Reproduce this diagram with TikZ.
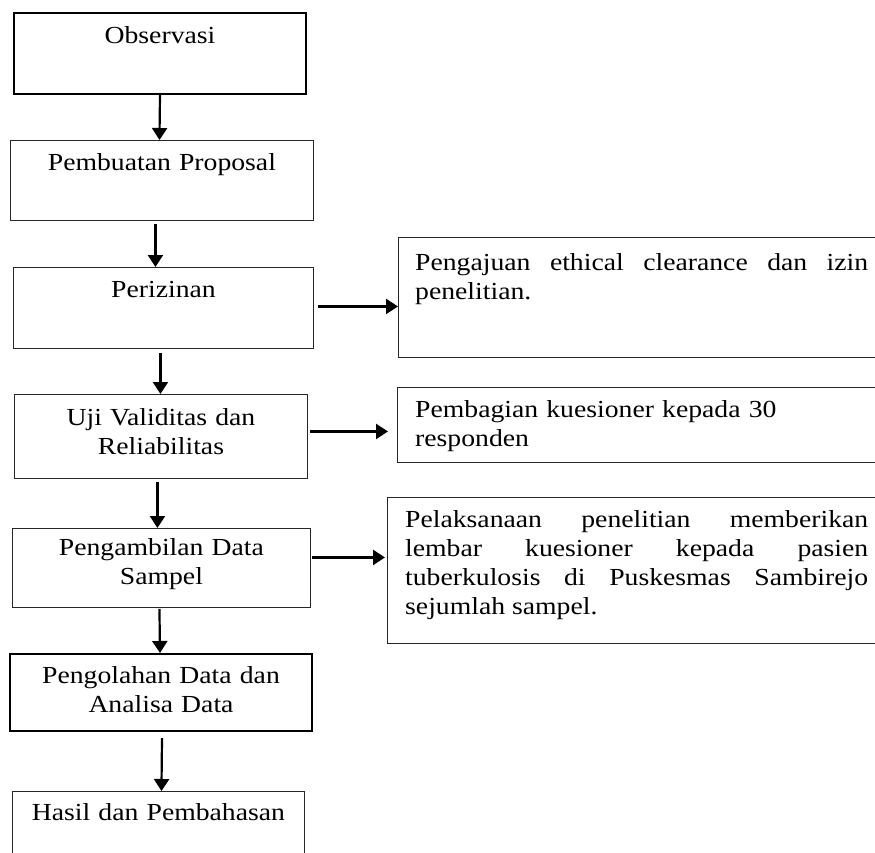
\documentclass[tikz,border=0pt]{standalone}
\usepackage{fontspec}
\setmainfont[FakeStretch=1.13]{Liberation Serif}
\usetikzlibrary{arrows.meta}
\tikzset{
  stepbox/.style={draw=black!85, line width=0.9pt, inner sep=0pt, anchor=north west},
  thickbox/.style={stepbox, draw=black, line width=2pt},
  lbl/.style={inner sep=0pt, anchor=base, align=center, font=\fontsize{24.5pt}{29pt}\selectfont},
  rlbl/.style={inner sep=0pt, anchor=base west, font=\fontsize{24.5pt}{29pt}\selectfont},
  arr/.style={line width=2.2pt, -{Triangle[length=12pt,width=15pt]}}
}
\begin{document}
\begin{tikzpicture}[x=1pt,y=-1pt]
\clip (0,0) rectangle (875,852);
\fill[white] (0,0) rectangle (875,852);
% left column
\node[thickbox, minimum width=292pt, minimum height=81pt] (obs) at (13,12) {};
\node[stepbox, minimum width=303pt, minimum height=80pt] (prop) at (10,140) {};
\node[stepbox, minimum width=300pt, minimum height=81pt] (per) at (13,267) {};
\node[stepbox, minimum width=293pt, minimum height=84pt] (uji) at (14,394) {};
\node[stepbox, minimum width=298pt, minimum height=79pt] (peng) at (12,528) {};
\node[thickbox, minimum width=302pt, minimum height=77pt] (olah) at (9,653) {};
\node[stepbox, minimum width=292pt, minimum height=80pt] (hasil) at (12,791) {};
% right column
\node[stepbox, minimum width=492pt, minimum height=120pt] (r1) at (398,237) {};
\node[stepbox, minimum width=493pt, minimum height=75pt] (r2) at (397,387) {};
\node[stepbox, minimum width=503pt, minimum height=146pt] (r3) at (387,497) {};
% labels
\node[lbl, text width=292pt] (tobs) at ([yshift=-31pt]obs.north) {Observasi};
\node[lbl, text width=303pt] (tprop) at ([yshift=-30pt]prop.north) {Pembuatan Proposal};
\node[lbl, text width=300pt] (tper) at ([yshift=-30pt]per.north) {Perizinan};
\node[lbl, text width=293pt] (tuji) at ([yshift=-31pt]uji.north) {Uji Validitas dan\\Reliabilitas};
\node[lbl, text width=298pt] (tpeng) at ([yshift=-27pt]peng.north) {Pengambilan Data\\Sampel};
\node[lbl, text width=302pt] (tolah) at ([yshift=-30pt]olah.north) {Pengolahan Data dan\\Analisa Data};
\node[lbl, text width=292pt] (thasil) at ([yshift=-29pt]hasil.north) {Hasil dan Pembahasan};
\node[rlbl, text width=453pt, align=justify] (tr1) at ([xshift=17pt,yshift=-33pt]r1.north west)
  {Pengajuan ethical clearance dan izin\linebreak penelitian.};
\node[rlbl, text width=453pt, align=left] (tr2) at ([xshift=18pt,yshift=-30pt]r2.north west)
  {Pembagian kuesioner kepada 30\\responden};
\node[rlbl, text width=463pt, align=justify] (tr3) at ([xshift=18pt,yshift=-30pt]r3.north west)
  {Pelaksanaan penelitian memberikan\linebreak lembar kuesioner kepada pasien\linebreak tuberkulosis di Puskesmas Sambirejo\linebreak sejumlah sampel.};
% vertical arrows
\draw[arr] (obs.south) -- ([xshift=-2.5pt]prop.north);
\draw[arr] ([xshift=-6.5pt,yshift=-3pt]prop.south) -- ([xshift=-8pt]per.north);
\draw[arr] ([xshift=-3pt,yshift=-4pt]per.south) -- ([xshift=-0.5pt]uji.north);
\draw[arr] ([xshift=-3.5pt,yshift=-3pt]uji.south) -- ([xshift=-4pt]peng.north);
\draw[arr] ([xshift=-2pt,yshift=-1pt]peng.south) -- ([xshift=-1pt]olah.north);
\draw[arr] ([xshift=1pt,yshift=-6pt]olah.south) -- ([xshift=3pt]hasil.north);
% horizontal arrows
\draw[arr] ([xshift=4pt,yshift=1.5pt]per.east) -- ([yshift=-9pt]r1.west);
\draw[arr] ([xshift=2pt,yshift=5pt]uji.east) -- ([xshift=-9pt,yshift=-6.5pt]r2.west);
\draw[arr] ([xshift=1pt,yshift=10.5pt]peng.east) -- ([xshift=-2pt,yshift=13pt]r3.west);
\end{tikzpicture}
\end{document}
